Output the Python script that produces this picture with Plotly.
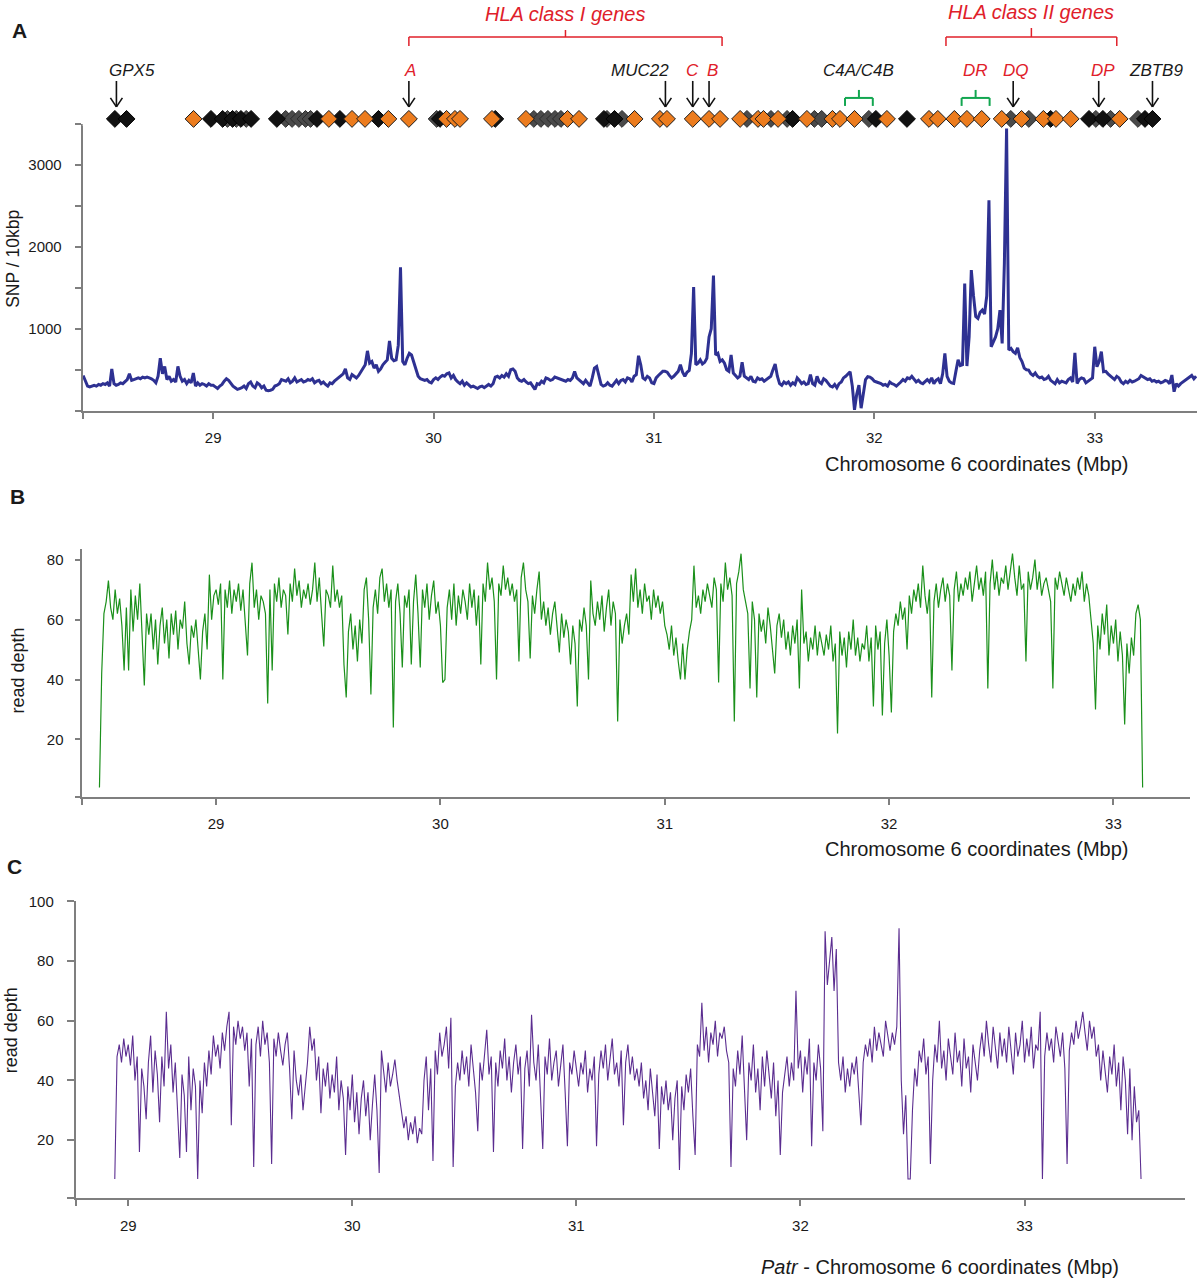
import numpy as np
import plotly.graph_objects as go

# ---- panel A: SNP density, one value per 10 kbp bin starting at 28.41 Mbp
snp_start = 28.41
snp_val = [
    430, 360, 300, 290, 300, 310, 300, 320, 310, 330,   # 28.41
    320, 340, 300, 510, 330, 310, 320, 340, 330, 360,   # 28.51
    380, 450, 370, 380, 390, 400, 390, 410, 400, 410,   # 28.61
    400, 390, 370, 340, 420, 640, 450, 540, 380, 420,   # 28.71
    360, 380, 350, 540, 420, 360, 380, 330, 370, 340,   # 28.81
    460, 300, 340, 310, 330, 320, 300, 330, 310, 310,   # 28.91
    290, 270, 300, 320, 360, 390, 370, 330, 300, 280,   # 29.01
    260, 270, 280, 300, 270, 330, 350, 300, 280, 340,   # 29.11
    320, 280, 300, 250, 245, 250, 260, 300, 310, 330,   # 29.21
    380, 370, 360, 390, 340, 360, 400, 350, 370, 380,   # 29.31
    350, 360, 380, 370, 390, 340, 360, 370, 330, 350,   # 29.41
    320, 300, 340, 330, 360, 380, 400, 420, 450, 510,   # 29.51
    400, 380, 440, 420, 400, 430, 470, 520, 560, 730,   # 29.61
    580, 600, 520, 560, 480, 510, 560, 590, 620, 850,   # 29.71
    640, 610, 620, 800, 1750, 600, 560, 640, 700, 680,  # 29.81
    600, 500, 420, 390, 380, 370, 380, 350, 340, 380,   # 29.91
    400, 380, 410, 430, 420, 450, 460, 400, 430, 380,   # 30.01
    350, 330, 360, 310, 340, 320, 290, 300, 280, 270,   # 30.11
    290, 300, 280, 300, 320, 300, 330, 410, 420, 400,   # 30.21
    430, 410, 450, 420, 500, 510, 480, 400, 370, 360,   # 30.31
    380, 350, 330, 340, 300, 260, 330, 320, 360, 340,   # 30.41
    400, 390, 370, 380, 410, 400, 390, 380, 370, 360,   # 30.51
    380, 370, 400, 480, 400, 380, 360, 330, 370, 330,   # 30.61
    300, 400, 520, 540, 440, 320, 300, 310, 340, 310,   # 30.71
    300, 340, 370, 330, 370, 380, 350, 400, 390, 350,   # 30.81
    420, 440, 670, 560, 400, 380, 420, 400, 340, 330,   # 30.91
    400, 430, 460, 480, 480, 470, 430, 400, 420, 450,   # 31.01
    480, 560, 470, 420, 470, 490, 700, 1510, 560, 580,  # 31.11
    620, 570, 590, 640, 900, 1000, 1650, 680, 700, 600, # 31.21
    620, 580, 500, 480, 680, 460, 430, 400, 420, 590,   # 31.31
    420, 400, 380, 420, 360, 350, 400, 380, 390, 360,   # 31.41
    380, 400, 420, 500, 570, 420, 330, 310, 350, 330,   # 31.51
    350, 310, 340, 320, 400, 370, 330, 350, 320, 330,   # 31.61
    440, 330, 310, 420, 350, 330, 390, 370, 340, 300,   # 31.71
    290, 320, 280, 330, 350, 400, 420, 450, 475, 300,   # 31.81
    10, 200, 313, 30, 200, 380, 415, 410, 390, 360,     # 31.91
    350, 340, 330, 310, 320, 300, 350, 330, 320, 300,   # 32.01
    320, 350, 380, 360, 400, 390, 420, 380, 350, 370,   # 32.11
    340, 330, 360, 380, 350, 400, 330, 370, 390, 330,   # 32.21
    450, 700, 420, 360, 340, 333, 480, 620, 550, 560,   # 32.31
    1553, 545, 900, 1715, 1400, 1150, 1126, 1200, 1228, 1180,  # 32.41
    1400, 2569, 780, 850, 900, 1000, 1228, 821, 1800, 3443,    # 32.51
    740, 760, 720, 700, 768, 650, 600, 520, 500, 496,   # 32.61
    450, 430, 460, 420, 400, 410, 380, 390, 420, 370,   # 32.71
    350, 330, 380, 340, 360, 350, 340, 380, 400, 350,   # 32.81
    707, 333, 380, 400, 390, 340, 360, 370, 400, 780,   # 32.91
    536, 600, 720, 475, 480, 450, 430, 400, 380, 420,   # 33.01
    400, 350, 330, 360, 340, 370, 350, 360, 380, 390,   # 33.11
    430, 410, 400, 380, 390, 360, 370, 350, 360, 340,   # 33.21
    350, 370, 360, 330, 435, 232, 330, 300, 330, 350,   # 33.31
    360, 380, 400, 430, 390, 420,                       # 33.41
]

# ---- panel B: read depth, 10 kbp steps starting at 28.48 Mbp
depth_b_start = 28.48
depth_b = [
    4, 42, 62,                                          # 28.48
    66, 73, 64, 60, 70, 62, 67, 58, 43, 64,             # 28.51
    43, 70, 56, 68, 60, 72, 52, 38, 62, 55,             # 28.61
    62, 50, 60, 45, 58, 64, 52, 60, 47, 62,             # 28.71
    55, 63, 50, 60, 57, 66, 52, 45, 58, 54,             # 28.81
    60, 48, 40, 56, 62, 50, 75, 60, 68, 70,             # 28.91
    65, 72, 40, 70, 64, 73, 62, 70, 66, 72,             # 29.01
    63, 70, 60, 48, 72, 79, 64, 70, 60, 68,             # 29.11
    66, 62, 32, 70, 43, 72, 66, 74, 64, 70,             # 29.21
    68, 55, 72, 66, 77, 68, 73, 64, 70, 67,             # 29.31
    72, 65, 70, 79, 66, 74, 62, 51, 70, 68,             # 29.41
    64, 78, 66, 70, 64, 68, 45, 34, 56, 62,             # 29.51
    50, 58, 46, 60, 52, 70, 74, 60, 35, 64,             # 29.61
    70, 62, 74, 77, 66, 72, 64, 70, 24, 66,             # 29.71
    72, 62, 44, 68, 64, 70, 45, 66, 75, 62,             # 29.81
    44, 70, 64, 72, 60, 68, 73, 62, 66, 58,             # 29.91
    39, 40, 64, 70, 60, 72, 58, 68, 62, 70,             # 30.01
    66, 60, 72, 64, 70, 58, 68, 45, 72, 66,             # 30.11
    79, 70, 74, 66, 40, 72, 68, 78, 70, 74,             # 30.21
    68, 72, 66, 70, 46, 74, 79, 70, 66, 47,             # 30.31
    68, 62, 70, 76, 60, 66, 58, 64, 55, 62,             # 30.41
    66, 58, 49, 62, 54, 60, 56, 45, 58, 52,             # 30.51
    31, 60, 56, 64, 58, 40, 73, 62, 58, 66,             # 30.61
    60, 68, 56, 64, 70, 58, 66, 62, 26, 60,             # 30.71
    52, 58, 62, 55, 75, 66, 77, 64, 70, 62,             # 30.81
    72, 66, 68, 60, 70, 64, 68, 62, 66, 58,             # 30.91
    55, 50, 58, 48, 54, 46, 40, 52, 40, 50,             # 31.01
    56, 60, 78, 64, 68, 62, 70, 66, 72, 68,             # 31.11
    64, 74, 70, 39, 72, 66, 79, 70, 74, 68,             # 31.21
    26, 72, 76, 82, 70, 66, 62, 37, 66, 60,             # 31.31
    34, 62, 56, 60, 52, 64, 58, 50, 42, 58,             # 31.41
    62, 54, 60, 50, 56, 48, 58, 52, 60, 37,             # 31.51
    70, 52, 56, 46, 54, 50, 58, 48, 56, 52,             # 31.61
    48, 55, 50, 58, 46, 52, 22, 56, 48, 54,             # 31.71
    44, 56, 50, 60, 48, 54, 46, 52, 50, 58,             # 31.81
    46, 54, 31, 58, 50, 56, 28, 52, 60, 48,             # 31.91
    29, 56, 62, 58, 66, 60, 64, 50, 68, 62,             # 32.01
    70, 66, 72, 64, 78, 68, 62, 70, 34, 66,             # 32.11
    72, 64, 70, 74, 66, 72, 68, 43, 70, 76,             # 32.21
    66, 72, 68, 74, 70, 76, 66, 72, 78, 70,             # 32.31
    74, 68, 76, 37, 72, 80, 70, 76, 68, 74,             # 32.41
    72, 78, 70, 76, 82, 74, 68, 78, 70, 72,             # 32.51
    46, 76, 70, 74, 80, 70, 76, 68, 72, 74,             # 32.61
    70, 66, 37, 74, 70, 76, 72, 68, 74, 70,             # 32.71
    66, 72, 68, 74, 70, 76, 66, 72, 68, 60,             # 32.81
    52, 30, 58, 50, 62, 55, 65, 48, 58, 52,             # 32.91
    60, 46, 56, 48, 25, 52, 42, 54, 48, 62,             # 33.01
    65, 60, 4,                                          # 33.11
]

# ---- panel C: Patr read depth, 10 kbp steps starting at 28.94 Mbp
depth_c_start = 28.94
depth_c = [
    7, 48, 52, 46, 54, 48, 52,                          # 28.94
    45, 55, 40, 48, 16, 44, 38, 27, 46, 55,             # 29.01
    36, 50, 42, 26, 48, 38, 63, 44, 52, 36,             # 29.11
    46, 30, 14, 42, 35, 16, 48, 30, 44, 38,             # 29.21
    7, 40, 29, 46, 38, 50, 42, 55, 48, 52,              # 29.31
    44, 56, 50, 58, 63, 25, 58, 52, 60, 54,             # 29.41
    58, 50, 56, 38, 54, 11, 52, 58, 48, 60,             # 29.51
    52, 56, 46, 12, 54, 48, 56, 50, 45, 52,             # 29.61
    56, 44, 27, 50, 40, 35, 42, 30, 38, 46,             # 29.71
    58, 50, 54, 40, 48, 29, 44, 38, 46, 34,             # 29.81
    42, 36, 48, 30, 40, 34, 15, 38, 30, 42,             # 29.91
    26, 36, 22, 34, 40, 28, 36, 20, 32, 42,             # 30.01
    30, 9, 50, 44, 36, 46, 38, 42, 47, 40,              # 30.11
    34, 30, 24, 28, 20, 26, 22, 28, 19, 24,             # 30.21
    22, 40, 48, 30, 44, 13, 50, 42, 56, 48,             # 30.31
    52, 58, 44, 61, 11, 38, 46, 40, 50, 42,             # 30.41
    48, 38, 52, 44, 36, 23, 46, 40, 50, 57,             # 30.51
    42, 48, 16, 46, 38, 50, 44, 54, 40, 48,             # 30.61
    36, 46, 52, 42, 48, 17, 44, 50, 38, 62,             # 30.71
    46, 40, 52, 36, 17, 48, 42, 54, 40, 46,             # 30.81
    50, 38, 44, 52, 36, 18, 46, 42, 50, 44,             # 30.91
    38, 46, 42, 50, 36, 44, 40, 48, 18, 42,             # 31.01
    50, 44, 52, 40, 48, 54, 42, 46, 38, 50,             # 31.11
    25, 46, 52, 42, 48, 40, 44, 38, 46, 34,             # 31.21
    40, 30, 44, 36, 28, 42, 17, 38, 32, 40,             # 31.31
    30, 36, 20, 34, 40, 10, 38, 30, 42, 36,             # 31.41
    44, 28, 15, 52, 48, 66, 50, 58, 46, 56,             # 31.51
    52, 60, 48, 56, 54, 58, 50, 46, 11, 44,             # 31.61
    38, 50, 42, 55, 34, 20, 46, 40, 52, 36,             # 31.71
    44, 30, 48, 38, 50, 42, 34, 46, 28, 40,             # 31.81
    15, 36, 42, 48, 38, 46, 40, 70, 44, 50,             # 31.91
    36, 48, 42, 54, 18, 46, 40, 52, 44, 23,             # 32.01
    90, 72, 80, 88, 70, 84, 46, 40, 48, 36,             # 32.11
    44, 38, 46, 42, 48, 36, 25, 46, 52, 48,             # 32.21
    54, 46, 58, 50, 56, 52, 48, 60, 54, 50,             # 32.31
    56, 52, 58, 91, 40, 22, 35, 7, 7, 30,               # 32.41
    44, 38, 50, 46, 54, 42, 48, 12, 40, 52,             # 32.51
    46, 60, 44, 50, 40, 54, 48, 42, 56, 46,             # 32.61
    50, 38, 54, 44, 48, 36, 52, 46, 40, 50,             # 32.71
    56, 48, 60, 52, 46, 58, 50, 44, 56, 48,             # 32.81
    54, 46, 58, 50, 42, 56, 48, 52, 60, 46,             # 32.91
    54, 48, 58, 44, 52, 50, 63, 7, 48, 56,              # 33.01
    50, 54, 46, 58, 52, 48, 56, 44, 12, 50,             # 33.11
    56, 52, 60, 54, 58, 63, 56, 50, 60, 54,             # 33.21
    58, 48, 52, 40, 50, 44, 36, 48, 42, 52,             # 33.31
    38, 46, 30, 48, 40, 22, 44, 20, 38, 26,             # 33.41
    30, 7,                                              # 33.51
]

# ---- gene track (Mbp)
gene_orange = [28.911, 29.525, 29.630, 29.689, 29.795, 29.888, 30.059, 30.097, 30.120,
               30.265, 30.419, 30.608, 30.660, 30.912, 31.027, 31.059, 31.176, 31.250,
               31.300, 31.391, 31.472, 31.497, 31.563, 31.694, 31.810, 31.844, 31.910,
               32.057, 32.248, 32.288, 32.363, 32.420, 32.487, 32.578, 32.668, 32.767,
               32.824, 32.891, 33.113]
gene_black = [28.554, 28.607, 28.990, 29.043, 29.088, 29.126, 29.172, 29.289, 29.471,
              29.575, 29.750, 30.029, 30.280, 30.773, 30.821, 31.629, 32.007, 32.148,
              32.800, 32.974, 33.037, 33.228, 33.262]
gene_gray = [29.065, 29.105, 29.150, 29.329, 29.358, 29.389, 29.419, 29.442, 30.014,
             30.455, 30.487, 30.519, 30.551, 30.578, 30.787, 30.855, 31.422, 31.531,
             31.604, 31.728, 31.761, 31.975, 32.619, 32.701, 33.005, 33.072, 33.196]

arrow_names = ['GPX5', 'A', 'MUC22', 'C', 'B', 'DQ', 'DP', 'ZBTB9']
arrow_pos = [28.561, 29.888, 31.052, 31.176, 31.250, 32.630, 33.018, 33.262]
arrow_label_pos = [28.632, 29.893, 30.937, 31.177, 31.265, 32.641, 33.037, 33.278]
arrow_is_hla = [False, True, False, True, True, True, True, False]

bracket_names = ['HLA class I genes', 'HLA class II genes']
bracket_span = [(29.888, 31.309), (32.325, 33.100)]
cluster_names = ['C4A/C4B', 'DR']
cluster_span = [(31.867, 31.993), (32.396, 32.523)]
cluster_is_hla = [False, True]

W, H = 1198, 1280
RED = '#E0202A'
GREEN = '#12A650'
AXC = '#7F7F7F'
FONT = 'Liberation Sans, Arial, sans-serif'


def px(x):
    return x / W


def py(y):
    # the photographed page comes out shifted ~8px down and squeezed a little
    return 1 - (y - 8) / 0.99375 / H


def grid(start, vals):
    return np.round(start + 0.01 * np.arange(len(vals)), 2)


fig = go.Figure()

fig.add_trace(go.Scatter(x=grid(snp_start, snp_val), y=snp_val, mode='lines',
                         line=dict(color='#2E3192', width=3), xaxis='x', yaxis='y'))
fig.add_trace(go.Scatter(x=grid(depth_b_start, depth_b), y=depth_b, mode='lines',
                         line=dict(color='#1B901B', width=1.2), xaxis='x2', yaxis='y2'))
fig.add_trace(go.Scatter(x=grid(depth_c_start, depth_c), y=depth_c, mode='lines',
                         line=dict(color='#5B2D90', width=1.1), xaxis='x3', yaxis='y3'))

# gene track diamonds
for pos, fill, edge in [(gene_gray, '#4A4A4A', '#2A2A2A'),
                        (gene_black, '#111111', '#000000'),
                        (gene_orange, '#EC7C1E', '#1A1A1A')]:
    fig.add_trace(go.Scatter(x=pos, y=[0] * len(pos), mode='markers',
                             marker=dict(symbol='diamond', size=13, color=fill,
                                         line=dict(color=edge, width=1)),
                             xaxis='x', yaxis='y4', cliponaxis=False))

axis_common = dict(showline=True, linecolor=AXC, linewidth=2, ticks='outside',
                   ticklen=6, tickwidth=2, tickcolor=AXC, showgrid=False,
                   zeroline=False, tickfont=dict(size=15, color='#1A1A1A', family=FONT))

a_x = [28.408, 33.464]
b_x = [28.40, 33.343]
c_x = [28.766, 33.718]

fig.update_layout(
    width=W, height=H, margin=dict(l=0, r=0, t=0, b=0),
    paper_bgcolor='white', plot_bgcolor='white', showlegend=False,
    font=dict(family=FONT, color='#1A1A1A'),
    xaxis=dict(axis_common, domain=[px(82.7), px(1197)], range=a_x, anchor='y',
               tickvals=[a_x[0], 29, 30, 31, 32, 33], ticktext=['', '29', '30', '31', '32', '33'],
               ticklabelstandoff=6),
    yaxis=dict(axis_common, domain=[py(410), py(123)], range=[0, 3500], anchor='x',
               tickvals=list(range(0, 3501, 500)),
               ticktext=['', '', '1000', '', '2000', '', '3000', ''],
               ticklabelstandoff=10),
    yaxis4=dict(domain=[py(125), py(111)], range=[-1, 1], anchor='x', visible=False),
    xaxis2=dict(axis_common, domain=[px(81.5), px(1190.4)], range=b_x, anchor='y2',
                tickvals=[b_x[0], 29, 30, 31, 32, 33], ticktext=['', '29', '30', '31', '32', '33'],
                ticklabelstandoff=6),
    yaxis2=dict(axis_common, domain=[py(796.7), py(548.3)], range=[0.77, 83.6], anchor='x2',
                tickvals=[0.77, 20, 40, 60, 80], ticktext=['', '20', '40', '60', '80'],
                ticklen=5, ticklabelstandoff=8),
    xaxis3=dict(axis_common, domain=[px(75.8), px(1185.4)], range=c_x, anchor='y3',
                tickvals=[c_x[0], 29, 30, 31, 32, 33], ticktext=['', '29', '30', '31', '32', '33'],
                ticklabelstandoff=7),
    yaxis3=dict(axis_common, domain=[py(1197.7), py(901)], range=[0.7, 100], anchor='x3',
                tickvals=[0.7, 20, 40, 60, 80, 100], ticktext=['', '20', '40', '60', '80', '100'],
                ticklen=7, ticklabelstandoff=10),
)

ann = []
# panel letters
for letter, (lx, ly) in zip('ABC', [(19, 30), (17, 496), (14, 866)]):
    ann.append(dict(text='<b>%s</b>' % letter, x=px(lx), y=py(ly), font=dict(size=21)))
# axis titles
ann.append(dict(text='SNP / 10kbp', x=px(13), y=py(258), textangle=-90, font=dict(size=17.5)))
ann.append(dict(text='read depth', x=px(18), y=py(670), textangle=-90, font=dict(size=18)))
ann.append(dict(text='read depth', x=px(11), y=py(1030), textangle=-90, font=dict(size=18)))
ann.append(dict(text='Chromosome 6 coordinates (Mbp)', x=px(976), y=py(463), font=dict(size=20)))
ann.append(dict(text='Chromosome 6 coordinates (Mbp)', x=px(976), y=py(849), font=dict(size=20)))
ann.append(dict(text='<i>Patr</i> - Chromosome 6 coordinates (Mbp)', x=px(940), y=py(1267),
                font=dict(size=20)))
for a in ann:
    a.update(xref='paper', yref='paper')

# gene labels (x in Mbp, y in page pixels)
for name, lx, hla in zip(arrow_names, arrow_label_pos, arrow_is_hla):
    ann.append(dict(text='<i>%s</i>' % name, x=lx, xref='x', y=py(70), yref='paper',
                    font=dict(size=17, color=RED if hla else '#1A1A1A')))
for name, (s, e), hla in zip(cluster_names, cluster_span, cluster_is_hla):
    ann.append(dict(text='<i>%s</i>' % name, x=(s + e) / 2, xref='x', y=py(70), yref='paper',
                    font=dict(size=17, color=RED if hla else '#1A1A1A')))
for name, (s, e), ly in zip(bracket_names, bracket_span, [13, 11]):
    ann.append(dict(text='<i>%s</i>' % name, x=(s + e) / 2, xref='x', y=py(ly), yref='paper',
                    font=dict(size=20, color=RED)))
for a in ann:
    a.update(showarrow=False, xanchor='center', yanchor='middle')

shapes = []
mbp_per_px = (a_x[1] - a_x[0]) / (1197 - 82.7)


def seg(x0, y0, x1, y1, color, width):
    return dict(type='line', xref='x', yref='paper', x0=x0, x1=x1, y0=py(y0), y1=py(y1),
                line=dict(color=color, width=width))


# arrows
hw = 6 * mbp_per_px
for xa in arrow_pos:
    shapes.append(seg(xa, 80, xa, 106, '#111111', 1.6))
    shapes.append(seg(xa - hw, 97, xa, 106, '#111111', 1.6))
    shapes.append(seg(xa + hw, 97, xa, 106, '#111111', 1.6))

# red HLA brackets
for (s, e), top in zip(bracket_span, [29, 27]):
    shapes.append(seg(s, 36, e, 36, RED, 1.5))
    shapes.append(seg(s, 36, s, 45, RED, 1.5))
    shapes.append(seg(e, 36, e, 45, RED, 1.5))
    shapes.append(seg((s + e) / 2, 36, (s + e) / 2, top, RED, 1.5))

# green cluster brackets
for s, e in cluster_span:
    shapes.append(seg(s, 97, e, 97, GREEN, 2))
    shapes.append(seg(s, 97, s, 105, GREEN, 2))
    shapes.append(seg(e, 97, e, 105, GREEN, 2))
    shapes.append(seg((s + e) / 2, 97, (s + e) / 2, 89, GREEN, 2))

fig.update_layout(annotations=ann, shapes=shapes)

fig.write_html("out.html", config={'displayModeBar': False},
               post_script="document.body.style.margin='0';")
